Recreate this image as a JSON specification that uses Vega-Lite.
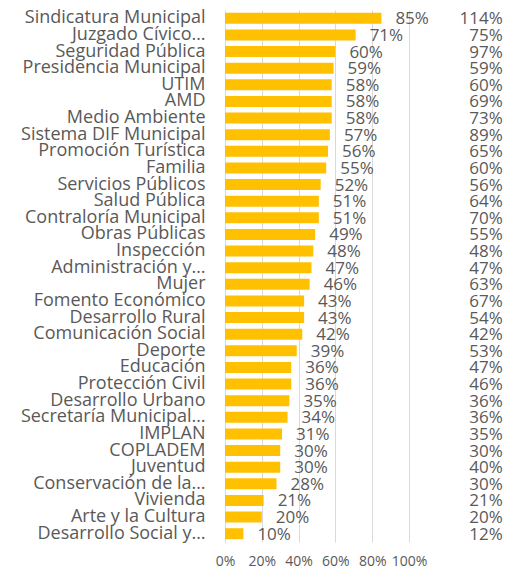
{
  "$schema": "https://vega.github.io/schema/vega-lite/v6.json",
  "padding": {"left": 20, "top": 8, "right": 0, "bottom": 0},
  "width": 184,
  "height": 532,
  "config": {"font": "Open Sans", "view": {"stroke": null}},
  "data": {"values": [
    {"name": "Sindicatura Municipal", "pct": 0.85, "total": 1.14},
    {"name": "Juzgado Cívico…", "pct": 0.71, "total": 0.75},
    {"name": "Seguridad Pública", "pct": 0.60, "total": 0.97},
    {"name": "Presidencia Municipal", "pct": 0.59, "total": 0.59},
    {"name": "UTIM", "pct": 0.58, "total": 0.60},
    {"name": "AMD", "pct": 0.58, "total": 0.69},
    {"name": "Medio Ambiente", "pct": 0.58, "total": 0.73},
    {"name": "Sistema DIF Municipal", "pct": 0.57, "total": 0.89},
    {"name": "Promoción Turística", "pct": 0.56, "total": 0.65},
    {"name": "Familia", "pct": 0.55, "total": 0.60},
    {"name": "Servicios Públicos", "pct": 0.52, "total": 0.56},
    {"name": "Salud Pública", "pct": 0.51, "total": 0.64},
    {"name": "Contraloría Municipal", "pct": 0.51, "total": 0.70},
    {"name": "Obras Públicas", "pct": 0.49, "total": 0.55},
    {"name": "Inspección", "pct": 0.48, "total": 0.48},
    {"name": "Administración y…", "pct": 0.47, "total": 0.47},
    {"name": "Mujer", "pct": 0.46, "total": 0.63},
    {"name": "Fomento Económico", "pct": 0.43, "total": 0.67},
    {"name": "Desarrollo Rural", "pct": 0.43, "total": 0.54},
    {"name": "Comunicación Social", "pct": 0.42, "total": 0.42},
    {"name": "Deporte", "pct": 0.39, "total": 0.53},
    {"name": "Educación", "pct": 0.36, "total": 0.47},
    {"name": "Protección Civil", "pct": 0.36, "total": 0.46},
    {"name": "Desarrollo Urbano", "pct": 0.35, "total": 0.36},
    {"name": "Secretaría Municipal…", "pct": 0.34, "total": 0.36},
    {"name": "IMPLAN", "pct": 0.31, "total": 0.35},
    {"name": "COPLADEM", "pct": 0.30, "total": 0.30},
    {"name": "Juventud", "pct": 0.30, "total": 0.40},
    {"name": "Conservación de la…", "pct": 0.28, "total": 0.30},
    {"name": "Vivienda", "pct": 0.21, "total": 0.21},
    {"name": "Arte y la Cultura", "pct": 0.20, "total": 0.20},
    {"name": "Desarrollo Social y…", "pct": 0.10, "total": 0.12}
  ]},
  "encoding": {
    "y": {
      "field": "name", "type": "nominal", "sort": null,
      "scale": {"paddingInner": 0.34, "paddingOuter": 0.17},
      "axis": {"title": null, "ticks": false, "domainColor": "#D9D9D9", "labelFontSize": 18, "labelColor": "#595959", "labelPadding": 20, "labelLimit": 300}
    }
  },
  "layer": [
    {
      "mark": {"type": "bar", "color": "#FFC000"},
      "encoding": {
        "x": {
          "field": "pct", "type": "quantitative",
          "scale": {"domain": [0, 1], "nice": false, "zero": true},
          "axis": {"title": null, "format": ".0%", "values": [0, 0.2, 0.4, 0.6, 0.8, 1], "labelOverlap": false, "labelFlush": false, "grid": true, "gridColor": "#D9D9D9", "ticks": false, "domain": false, "labelFontSize": 14, "labelColor": "#595959", "labelPadding": 12}
        }
      }
    },
    {
      "mark": {"type": "text", "align": "left", "baseline": "middle", "dx": 14, "dy": 1, "fontSize": 17, "color": "#595959"},
      "encoding": {
        "x": {"field": "pct", "type": "quantitative",
          "axis": {"title": null, "format": ".0%", "values": [0, 0.2, 0.4, 0.6, 0.8, 1], "labelOverlap": false, "labelFlush": false, "grid": true, "gridColor": "#D9D9D9", "ticks": false, "domain": false, "labelFontSize": 14, "labelColor": "#595959", "labelPadding": 12}},
        "text": {"field": "pct", "format": ".0%"}
      }
    },
    {
      "mark": {"type": "text", "align": "right", "baseline": "middle", "dy": 1, "fontSize": 17, "color": "#595959"},
      "encoding": {
        "x": {"datum": 1.51, "type": "quantitative",
          "axis": {"title": null, "format": ".0%", "values": [0, 0.2, 0.4, 0.6, 0.8, 1], "labelOverlap": false, "labelFlush": false, "grid": true, "gridColor": "#D9D9D9", "ticks": false, "domain": false, "labelFontSize": 14, "labelColor": "#595959", "labelPadding": 12}},
        "text": {"field": "total", "format": ".0%"}
      }
    }
  ]
}
